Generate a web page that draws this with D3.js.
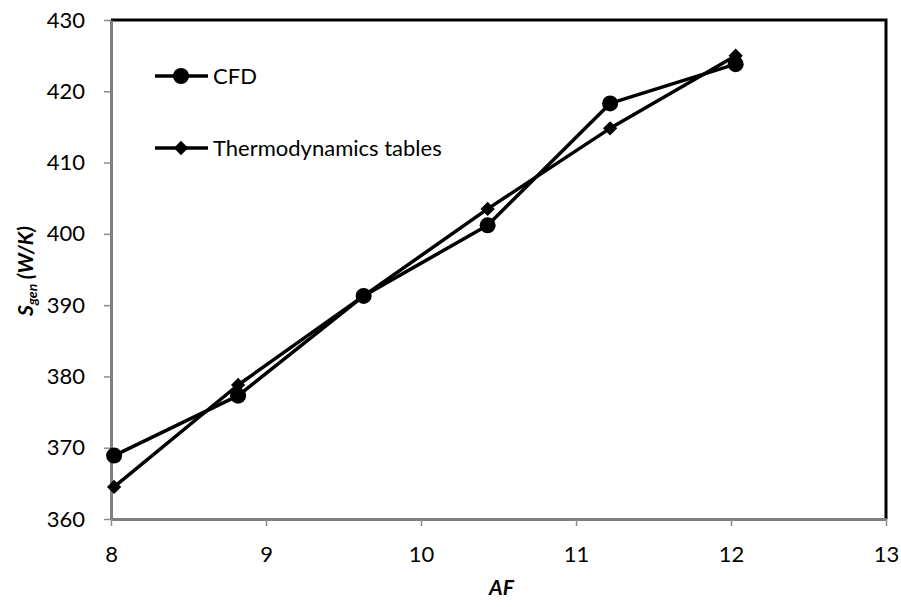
<!DOCTYPE html>
<html>
<head>
<meta charset="utf-8">
<script src="https://cdn.jsdelivr.net/npm/d3@7"></script>
<style>
  body { margin: 0; background: #fff; }
  text { font-family: Lato, "Open Sans", sans-serif; }
</style>
</head>
<body>
<div id="chart"></div>
<script>
let width = 901;
let height = 607;
let margin = { top: 20, right: 15, bottom: 88, left: 111 };

let afValues = [8.02, 8.82, 9.63, 10.43, 11.22, 12.03];
let cfdValues = [368.9, 377.3, 391.3, 401.2, 418.3, 423.8];
let thermoValues = [364.5, 378.8, 391.3, 403.5, 414.8, 425.0];
let xTicks = [8, 9, 10, 11, 12, 13];
let yTicks = [360, 370, 380, 390, 400, 410, 420, 430];
let seriesNames = ["CFD", "Thermodynamics tables"];

let svg = d3.select("#chart")
  .append("svg")
  .attr("width", width)
  .attr("height", height);

let x = d3.scaleLinear()
  .domain([8, 13])
  .range([margin.left, width - margin.right]);

let y = d3.scaleLinear()
  .domain([360, 430])
  .range([height - margin.bottom, margin.top]);

// plot border (top and right)
svg.append("path")
  .attr("d", `M${x(8)},${y(430)}H${x(13)}V${y(360)}`)
  .attr("fill", "none")
  .attr("stroke", "#000")
  .attr("stroke-width", 3);

// axes
let xAxis = svg.append("g")
  .attr("transform", `translate(0, ${y(360)})`)
  .call(d3.axisBottom(x).tickValues(xTicks).tickSize(7).tickSizeOuter(0).tickFormat(d3.format("d")));

let yAxis = svg.append("g")
  .attr("transform", `translate(${x(8)}, 0)`)
  .call(d3.axisLeft(y).tickValues(yTicks).tickSize(7).tickSizeOuter(0));

[xAxis, yAxis].forEach(a => {
  a.select(".domain").attr("stroke", "#7f7f7f").attr("stroke-width", 3);
  a.selectAll(".tick line").attr("stroke", "#8c8c8c").attr("stroke-width", 1.5);
  a.selectAll("text")
    .attr("fill", "#000")
    .style("font-size", "22px")
    .style("font-family", "Lato, 'Open Sans', sans-serif");
});
xAxis.selectAll("text").attr("dy", null).attr("y", 43);
yAxis.selectAll("text").attr("x", -26);

let cfd = afValues.map((a, i) => ({ a, v: cfdValues[i] }));
let thermo = afValues.map((a, i) => ({ a, v: thermoValues[i] }));

let line = d3.line().x(d => x(d.a)).y(d => y(d.v));

[thermo, cfd].forEach(s => {
  svg.append("path")
    .datum(s)
    .attr("d", line)
    .attr("fill", "none")
    .attr("stroke", "#000")
    .attr("stroke-width", 3.5)
    .attr("stroke-linejoin", "round");
});

let diamond = d3.symbol().type(d3.symbolDiamond2).size(130);

svg.append("g")
  .selectAll("path")
  .data(thermo)
  .enter()
  .append("path")
  .attr("transform", d => `translate(${x(d.a)},${y(d.v)})`)
  .attr("d", diamond)
  .attr("fill", "#000");

svg.append("g")
  .selectAll("circle")
  .data(cfd)
  .enter()
  .append("circle")
  .attr("cx", d => x(d.a))
  .attr("cy", d => y(d.v))
  .attr("r", 8)
  .attr("fill", "#000");

// legend
let legend = svg.append("g").attr("transform", "translate(155, 76)");
seriesNames.forEach((name, i) => {
  let g = legend.append("g").attr("transform", `translate(0, ${i * 72})`);
  g.append("line")
    .attr("x1", 0).attr("x2", 53)
    .attr("stroke", "#000").attr("stroke-width", 3.5);
  if (i === 0) {
    g.append("circle").attr("cx", 26).attr("r", 8).attr("fill", "#000");
  } else {
    g.append("path").attr("transform", "translate(26,0)").attr("d", diamond).attr("fill", "#000");
  }
  g.append("text")
    .attr("x", 58)
    .attr("dy", "0.35em")
    .style("font-size", "22px")
    .text(name);
});

// axis titles
svg.append("text")
  .attr("x", x(10.5) + 3)
  .attr("y", 595)
  .attr("text-anchor", "middle")
  .style("font-size", "21px")
  .style("font-weight", "bold")
  .style("font-style", "italic")
  .text("AF");

let yTitle = svg.append("text")
  .attr("transform", "translate(33, 271) rotate(-90)")
  .attr("text-anchor", "middle")
  .style("font-size", "21px")
  .style("font-weight", "bold")
  .style("font-style", "italic");
yTitle.append("tspan").text("S");
yTitle.append("tspan").attr("dy", 4).style("font-size", "14px").text("gen");
yTitle.append("tspan").attr("dy", -4).text(" (W/K)");
</script>
</body>
</html>
